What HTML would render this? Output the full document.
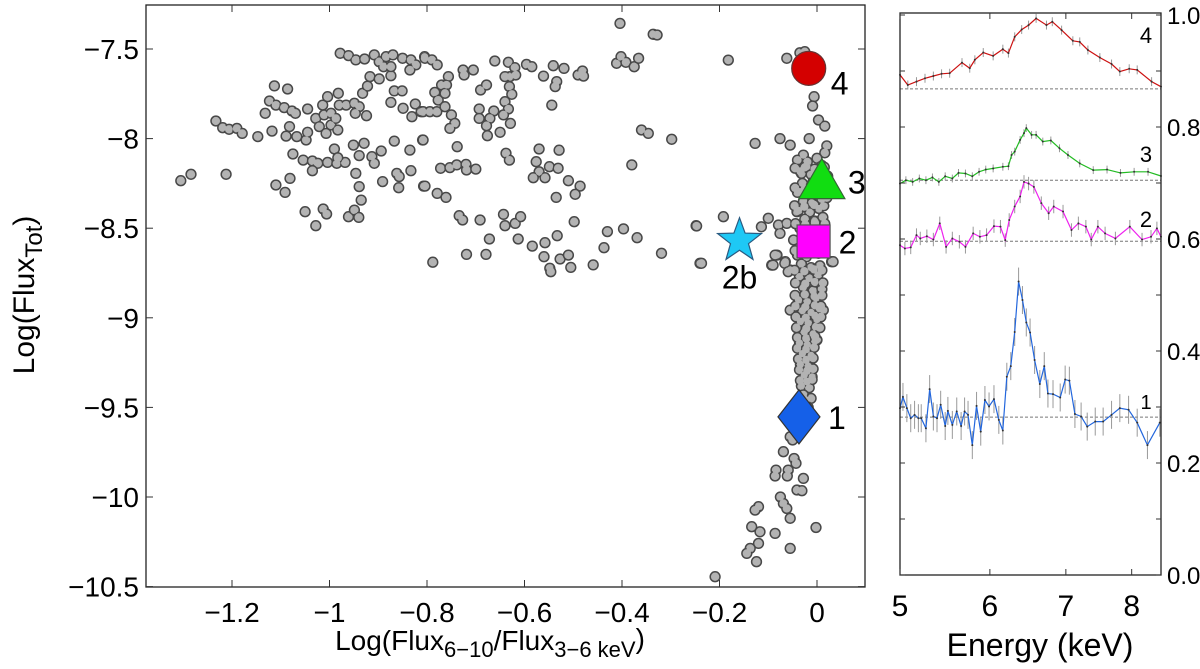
<!DOCTYPE html>
<html><head><meta charset="utf-8">
<style>
html,body{margin:0;padding:0;background:#fff;}
svg{display:block;font-family:"Liberation Sans",Arial,sans-serif;}
</style></head>
<body>
<svg id="fig" width="1200" height="669" viewBox="0 0 1200 669" xmlns="http://www.w3.org/2000/svg">
  <g id="scatter-layer"></g>
  <g id="spec-layer"></g>
</svg>
<script>
// ---------- Scatter data (Log flux ratio, Log total flux) ----------
const scatterX = [
-1.305,-1.284,-1.212,-1.233,-1.219,-1.206,-1.190,-1.179,-1.147,-1.118,-1.113,-1.086,-1.123,-1.132,-1.110,-1.093,-1.077,-1.070,-1.045,-1.082,-1.089,-1.067,-1.048,-1.045,-1.075,-1.054,-1.035,-1.024,-1.035,-1.004,-0.985,-0.968,-0.990,-0.983,-1.110,-1.091,-1.081,-1.050,-1.028,-1.013,-1.006,-0.961,-0.949,-0.940,-0.935,-0.939,-0.946,-1.028,-1.014,-1.004,-0.982,-1.011,-0.997,-1.021,-1.007,-0.997,-0.983,-0.980,-0.987,-0.966,-0.949,-0.939,-0.947,-0.924,-0.932,-0.922,-0.917,-0.898,-0.874,-0.978,-0.961,-0.946,-0.928,-0.908,-0.898,-0.884,-0.870,-0.889,-0.874,-0.850,-0.833,-0.823,-0.835,-0.805,-0.867,-0.851,-0.874,-0.849,-0.824,-0.831,-0.812,-0.951,-0.929,-0.939,-0.913,-0.908,-0.894,-0.867,-0.835,-0.809,-0.891,-0.862,-0.857,-0.858,-0.833,-0.807,
-0.804,-0.790,-0.779,-0.756,-0.770,-0.760,-0.784,-0.777,-0.763,-0.808,-0.794,-0.780,-0.763,-0.750,-0.743,-0.753,-0.808,-0.738,-0.772,-0.753,-0.739,-0.720,-0.719,-0.700,-0.804,-0.779,-0.761,-0.734,-0.727,-0.691,-0.788,-0.719,-0.679,-0.672,-0.643,-0.640,-0.619,-0.608,-0.613,-0.726,-0.724,-0.705,-0.661,-0.633,-0.620,-0.630,-0.640,-0.618,-0.690,-0.678,-0.631,-0.626,-0.640,-0.633,-0.643,-0.663,-0.693,-0.693,-0.671,-0.678,-0.676,-0.650,-0.629,-0.638,-0.631,-0.596,-0.585,-0.561,-0.541,-0.519,-0.534,-0.537,-0.544,-0.490,-0.481,-0.479,-0.570,-0.529,-0.576,-0.570,-0.582,-0.558,-0.549,-0.531,-0.510,-0.486,-0.496,-0.535,-0.498,-0.533,-0.558,-0.584,-0.560,-0.527,-0.510,-0.505,-0.548,-0.546,-0.459,-0.437,-0.430,-0.397,-0.369,-0.319,-0.248,-0.240,-0.404,-0.336,-0.328,-0.411,-0.402,-0.392,-0.375,-0.366,-0.360,-0.346,-0.298,-0.380,
-0.182,-0.062,-0.035,-0.025,-0.006,-0.009,0.003,0.016,-0.127,-0.076,-0.055,-0.016,0.020,0.016,-0.028,-0.021,-0.032,-0.035,-0.247,-0.192,-0.100,-0.114,-0.079,-0.062,-0.076,-0.237,-0.082,-0.093,-0.065,-0.055,-0.041,0.030,-0.048,
-0.086,-0.090,-0.066,-0.059,0.033,-0.055,0.013,0.000,
-0.040,-0.020,0.000,0.010,-0.035,-0.012,0.005,-0.030,-0.008,0.008,-0.040,-0.018,0.002,-0.028,-0.010,0.010,-0.038,-0.015,0.004,-0.025,-0.005,0.012,-0.035,-0.018,0.000,-0.030,-0.010,0.008,-0.040,-0.022,0.003,-0.032,-0.012,0.006,-0.036,-0.016,0.002,-0.028,-0.008,0.010,-0.038,-0.020,-0.002,-0.030,-0.012,0.005,-0.034,-0.018,0.000,-0.026,-0.008,-0.036,-0.020,-0.004,-0.030,-0.012,-0.034,-0.018,-0.026,-0.010,-0.032,-0.016,-0.028,-0.012,-0.030,-0.018,-0.024,
-0.045,-0.025,-0.005,0.015,0.022,-0.045,-0.025,-0.005,0.015,-0.046,-0.026,-0.006,0.014,0.020,-0.044,-0.024,-0.004,0.016,-0.045,-0.025,-0.005,0.012,-0.046,-0.026,-0.006,0.010,-0.044,-0.024,-0.004,0.012,-0.045,-0.025,-0.005,0.010,-0.044,-0.024,-0.004,0.008,-0.043,-0.023,-0.003,0.008,-0.042,-0.022,-0.002,0.006,-0.040,-0.022,-0.004,-0.040,-0.022,-0.006,-0.038,-0.022,-0.008,-0.036,-0.020,-0.008,-0.034,-0.020,-0.010,
-0.069,-0.047,-0.043,-0.084,-0.086,-0.059,-0.061,-0.028,-0.055,-0.050,-0.075,-0.069,-0.062,-0.041,-0.031,-0.055,-0.120,-0.127,-0.134,-0.117,-0.086,-0.002,-0.120,-0.137,-0.144,-0.124,-0.055,-0.209
];
const scatterY = [
-8.235,-8.199,-8.199,-7.902,-7.939,-7.948,-7.943,-7.971,-7.989,-7.958,-7.706,-7.723,-7.790,-7.859,-7.813,-7.827,-7.846,-7.859,-7.835,-7.933,-7.986,-7.989,-8.008,-7.965,-8.086,-8.120,-8.125,-8.138,-8.179,-8.133,-8.138,-8.133,-8.058,-8.107,-8.259,-8.300,-8.222,-8.408,-8.486,-8.393,-8.421,-8.436,-8.399,-8.440,-8.343,-8.268,-8.194,-7.887,-7.813,-7.766,-7.747,-7.868,-7.859,-7.933,-7.971,-7.924,-7.952,-7.813,-7.887,-7.813,-7.803,-7.822,-7.859,-7.872,-7.747,-7.707,-7.654,-7.667,-7.649,-7.524,-7.537,-7.561,-7.556,-7.533,-7.571,-7.543,-7.533,-7.599,-7.599,-7.552,-7.561,-7.589,-7.617,-7.543,-7.734,-7.734,-7.798,-7.831,-7.807,-7.878,-7.850,-8.036,-8.026,-8.095,-8.101,-8.138,-8.069,-8.014,-8.064,-8.008,-8.240,-8.194,-8.212,-8.274,-8.179,-8.265,
-7.552,-7.561,-7.589,-7.654,-7.701,-7.701,-7.742,-7.785,-7.747,-7.850,-7.850,-7.850,-7.822,-7.868,-7.915,-7.943,-8.008,-8.045,-8.166,-8.162,-8.147,-8.144,-8.175,-8.170,-8.265,-8.306,-8.328,-8.430,-8.454,-8.454,-8.690,-8.646,-8.646,-8.560,-8.423,-8.486,-8.473,-8.436,-8.560,-7.617,-7.645,-7.617,-7.567,-7.574,-7.604,-7.654,-7.654,-7.645,-7.729,-7.701,-7.710,-7.753,-7.794,-7.835,-7.868,-7.846,-7.835,-7.887,-7.887,-7.928,-7.984,-7.965,-7.915,-8.082,-8.120,-7.586,-7.599,-7.651,-7.593,-7.608,-7.682,-7.710,-7.813,-7.645,-7.623,-7.651,-8.058,-8.065,-8.129,-8.185,-8.218,-8.218,-8.157,-8.166,-8.235,-8.265,-8.311,-8.328,-8.464,-8.542,-8.581,-8.600,-8.659,-8.672,-8.650,-8.719,-8.724,-8.743,-8.705,-8.609,-8.519,-8.504,-8.553,-8.640,-8.486,-8.696,-7.357,-7.418,-7.422,-7.580,-7.543,-7.574,-7.599,-7.552,-7.952,-7.971,-8.004,-8.147,
-7.562,-7.552,-7.521,-7.515,-7.766,-7.818,-7.896,-7.930,-8.027,-8.000,-8.036,-8.000,-8.041,-8.079,-8.092,-8.157,-8.194,-8.296,-8.488,-8.436,-8.445,-8.492,-8.482,-8.473,-8.529,-8.696,-8.650,-8.706,-8.687,-8.733,-8.408,-8.687,-8.566,
-8.650,-8.706,-8.696,-8.743,-8.687,-8.957,-8.957,-9.124,
-8.120,-8.130,-8.110,-8.150,-8.180,-8.200,-8.190,-8.250,-8.240,-8.260,-8.300,-8.310,-8.290,-8.350,-8.360,-8.340,-8.400,-8.410,-8.390,-8.450,-8.460,-8.440,-8.500,-8.520,-8.510,-8.580,-8.600,-8.570,-8.650,-8.660,-8.640,-8.700,-8.720,-8.710,-8.770,-8.780,-8.760,-8.830,-8.850,-8.840,-8.900,-8.910,-8.890,-8.960,-8.970,-8.950,-9.020,-9.030,-9.010,-9.080,-9.090,-9.140,-9.150,-9.130,-9.200,-9.210,-9.260,-9.270,-9.320,-9.330,-9.380,-9.390,-9.430,-9.450,-9.480,-9.500,-9.460,
-8.165,-8.160,-8.170,-8.160,-8.210,-8.275,-8.280,-8.270,-8.275,-8.375,-8.380,-8.370,-8.375,-8.330,-8.475,-8.480,-8.470,-8.475,-8.625,-8.630,-8.620,-8.625,-8.735,-8.740,-8.730,-8.735,-8.805,-8.810,-8.800,-8.805,-8.875,-8.870,-8.880,-8.875,-8.935,-8.940,-8.930,-8.935,-8.995,-9.000,-8.990,-8.995,-9.055,-9.060,-9.050,-9.055,-9.110,-9.115,-9.105,-9.170,-9.175,-9.165,-9.230,-9.235,-9.225,-9.290,-9.295,-9.285,-9.350,-9.355,-9.345,
-9.747,-9.785,-9.812,-9.850,-9.883,-9.850,-9.883,-9.896,-9.664,-9.682,-10.000,-10.036,-10.064,-9.961,-9.965,-10.119,-10.054,-10.073,-10.166,-10.194,-10.203,-10.170,-10.259,-10.287,-10.315,-10.361,-10.287,-10.445
];
const xTicks = [-1.2,-1,-0.8,-0.6,-0.4,-0.2,0];
const xTickLabels = ["\u22121.2","\u22121","\u22120.8","\u22120.6","\u22120.4","\u22120.2","0"];
const yTicks = [-7.5,-8,-8.5,-9,-9.5,-10,-10.5];
const yTickLabels = ["\u22127.5","\u22128","\u22128.5","\u22129","\u22129.5","\u221210","\u221210.5"];
// highlighted states: 1, 2, 3, 4, 2b
const markX = [-0.037,-0.007,0.010,-0.017,-0.159];
const markY = [-9.553,-8.574,-8.24,-7.608,-8.570];

// ---------- Spectra data (energy keV, normalized flux) ----------
const E4 = [5.00,5.08,5.17,5.26,5.35,5.44,5.53,5.67,5.76,5.82,5.92,6.04,6.16,6.23,6.31,6.40,6.49,6.59,6.73,6.81,6.94,7.10,7.20,7.32,7.50,7.68,7.81,7.96,8.09,8.33,8.49];
const V4 = [0.893,0.875,0.881,0.887,0.891,0.895,0.896,0.915,0.905,0.920,0.933,0.927,0.939,0.932,0.961,0.974,0.982,0.994,0.982,0.988,0.973,0.954,0.952,0.9375,0.924,0.9125,0.899,0.904,0.902,0.881,0.872];
const E3 = [5.00,5.06,5.13,5.20,5.27,5.34,5.41,5.48,5.56,5.63,5.71,5.79,5.87,5.95,6.04,6.16,6.23,6.27,6.31,6.38,6.43,6.46,6.53,6.59,6.68,6.79,6.91,7.03,7.20,7.40,7.61,7.82,8.04,8.27,8.49];
const V3 = [0.699,0.705,0.702,0.708,0.705,0.710,0.702,0.712,0.708,0.718,0.717,0.712,0.720,0.724,0.726,0.729,0.730,0.750,0.756,0.777,0.789,0.798,0.786,0.786,0.774,0.776,0.762,0.750,0.735,0.723,0.724,0.718,0.720,0.720,0.7125];
const E2 = [5.00,5.05,5.11,5.17,5.21,5.28,5.35,5.42,5.49,5.56,5.64,5.71,5.80,5.88,5.96,6.05,6.13,6.19,6.24,6.31,6.38,6.43,6.49,6.56,6.66,6.76,6.83,6.96,7.08,7.18,7.29,7.37,7.47,7.58,7.74,7.97,8.17,8.32,8.42,8.49];
const V2 = [0.589,0.583,0.585,0.607,0.601,0.605,0.599,0.628,0.586,0.601,0.595,0.586,0.610,0.604,0.607,0.623,0.622,0.598,0.634,0.658,0.676,0.702,0.699,0.693,0.664,0.646,0.658,0.649,0.616,0.628,0.622,0.599,0.622,0.610,0.601,0.622,0.599,0.604,0.619,0.604];
const E1 = [5.00,5.03,5.07,5.11,5.15,5.19,5.22,5.27,5.31,5.35,5.39,5.43,5.48,5.51,5.56,5.61,5.66,5.70,5.74,5.79,5.84,5.89,5.94,5.99,6.05,6.11,6.16,6.21,6.26,6.31,6.36,6.41,6.46,6.51,6.57,6.64,6.70,6.75,6.82,6.92,6.99,7.05,7.13,7.22,7.31,7.43,7.55,7.68,7.81,7.95,8.09,8.26,8.47];
const V1 = [0.298,0.318,0.298,0.280,0.286,0.280,0.280,0.262,0.332,0.283,0.280,0.304,0.266,0.293,0.268,0.292,0.266,0.292,0.286,0.232,0.302,0.256,0.3125,0.301,0.314,0.277,0.258,0.354,0.373,0.434,0.524,0.491,0.451,0.433,0.384,0.341,0.373,0.324,0.323,0.317,0.349,0.347,0.2875,0.283,0.265,0.274,0.274,0.286,0.298,0.295,0.272,0.232,0.272];
const baselines = [0.868,0.705,0.596,0.282];
const errHalf = [0.008,0.007,0.012,0.025];
const specLabels = ["4","3","2","1"];
const eTicks = [5,6,7,8];
const vTicks = [0.0,0.2,0.4,0.6,0.8,1.0];
const vTickLabels = ["0.0","0.2","0.4","0.6","0.8","1.0"];

const NS = "http://www.w3.org/2000/svg";
function mk(tag, attrs, parent){ const e=document.createElementNS(NS,tag); for(const k in attrs) e.setAttribute(k,attrs[k]); parent.appendChild(e); return e; }

// ---------- Left scatter ----------
const L = {x0:146, x1:865, y0:5, y1:587};
const sx = v => 817 + v*487.5;
const sy = v => 49 + (-7.5 - v)*179.2;
const sg = document.getElementById('scatter-layer');

const pts = mk('g',{},sg);


for(let i=0;i<scatterX.length;i++){
  const c = mk('circle',{cx:sx(scatterX[i]).toFixed(1),cy:sy(scatterY[i]).toFixed(1),r:4.9,fill:'#b3b3b3',stroke:'#484848','stroke-width':1.5},pts);
  
  
}
const ptsFill = mk('g',{},sg);


for(let i=0;i<scatterX.length;i++){
  const c = mk('circle',{cx:sx(scatterX[i]).toFixed(1),cy:sy(scatterY[i]).toFixed(1),r:3.6,fill:'#b3b3b3'},ptsFill);
  
  
}
// markers
const mg = mk('g',{},sg);


{
  let cx=sx(markX[0]), cy=sy(markY[0]);
  let d = mk('polygon',{points:`${cx},${cy-27} ${cx+21},${cy} ${cx},${cy+27} ${cx-21},${cy}`,fill:'#1560e8',stroke:'#333','stroke-width':1.2},mg);
   
  cx=sx(markX[1]); cy=sy(markY[1]);
  d = mk('rect',{x:cx-16.5,y:cy-16.5,width:33,height:33,fill:'#ff00ff',stroke:'#555','stroke-width':1.2},mg);
   
  cx=sx(markX[2]); cy=sy(markY[2]);
  d = mk('polygon',{points:`${cx},${cy-23} ${cx+23},${cy+17} ${cx-23},${cy+17}`,fill:'#11dd11',stroke:'#336633','stroke-width':1.2},mg);
   
  cx=sx(markX[3]); cy=sy(markY[3]);
  d = mk('circle',{cx:cx,cy:cy,r:17,fill:'#d40000',stroke:'#663333','stroke-width':1.2},mg);
   
  cx=sx(markX[4]); cy=sy(markY[4]);
  let sp=[]; for(let k=0;k<10;k++){const r=k%2?9.5:23; const a=-Math.PI/2+k*Math.PI/5; sp.push((cx+r*Math.cos(a)).toFixed(1)+','+(cy+r*Math.sin(a)).toFixed(1));}
  d = mk('polygon',{points:sp.join(' '),fill:'#1ec8f5',stroke:'#2a5a80','stroke-width':1.2},mg);
   
  const labs=[["1",sx(markX[0])+29,sy(markY[0])+12],["2",sx(markX[1])+25,sy(markY[1])+12],["3",sx(markX[2])+26,sy(markY[2])+12],["4",sx(markX[3])+22,sy(markY[3])+26],["2b",sx(markX[4]),sy(markY[4])+48]];
  for(const l of labs){
    const t=mk('text',{x:l[1],y:l[2],'font-size':32,'text-anchor':l[0]==='2b'?'middle':'start',fill:'#000'},mg);
    t.textContent=l[0];
     
  }
}
let fr = mk('rect',{x:L.x0,y:L.y0,width:L.x1-L.x0,height:L.y1-L.y0,fill:'none',stroke:'#222','stroke-width':1.3},sg);
 
const xax = mk('g',{},sg);
 
xTicks.forEach((v,i)=>{
  const x=sx(v);
  mk('line',{x1:x,y1:L.y1,x2:x,y2:L.y1-7,stroke:'#333','stroke-width':1},xax);
  mk('line',{x1:x,y1:L.y0,x2:x,y2:L.y0+7,stroke:'#333','stroke-width':1},xax);
  const t=mk('text',{x:x,y:622,'font-size':28,'text-anchor':'middle'},xax);
  t.textContent=xTickLabels[i];
   
});
const yax = mk('g',{},sg);
 
yTicks.forEach((v,i)=>{
  const y=sy(v);
  mk('line',{x1:L.x0,y1:y,x2:L.x0+7,y2:y,stroke:'#333','stroke-width':1},yax);
  mk('line',{x1:L.x1,y1:y,x2:L.x1-7,y2:y,stroke:'#333','stroke-width':1},yax);
  const t=mk('text',{x:139,y:y+10,'font-size':28,'text-anchor':'end'},yax);
  t.textContent=yTickLabels[i];
   
});
let yt = mk('text',{x:0,y:0,'font-size':30,'text-anchor':'middle',transform:'translate(34,295) rotate(-90)'},sg);
yt.innerHTML='Log(Flux<tspan font-size="24" dy="8">Tot</tspan><tspan dy="-8">)</tspan>';
 
let xt = mk('text',{x:490,y:650,'font-size':28,'text-anchor':'middle'},sg);
xt.innerHTML='Log(Flux<tspan font-size="22" dy="7">6\u221210</tspan><tspan dy="-7">/Flux</tspan><tspan font-size="22" dy="7">3\u22126 keV</tspan><tspan dy="-9">)</tspan>';
 

// ---------- Right spectra panel ----------
const R = {x0:900, x1:1161, y0:13, y1:575};
const ex = e => 900 + Math.log10(e/5)*1135;
const vy = v => 575 - v*560;
const rg = document.getElementById('spec-layer');
const colors = ['#cc1111','#22bb22','#ee22ee','#2266dd'];
const Es=[E4,E3,E2,E1], Vs=[V4,V3,V2,V1];
for(let s=0;s<4;s++){
  const g=mk('g',{},rg);
   
  const bl=mk('line',{x1:R.x0,x2:R.x1,y1:vy(baselines[s]),y2:vy(baselines[s]),stroke:'#777','stroke-width':1,'stroke-dasharray':'3,2'},g);
   
  const E=Es[s], V=Vs[s];
  for(let i=0;i<E.length;i++){
    mk('line',{x1:ex(E[i]),x2:ex(E[i]),y1:vy(V[i]-errHalf[s]),y2:vy(V[i]+errHalf[s]),stroke:'#999','stroke-width':1},g);
  }
  const pl=mk('polyline',{points:E.map((e,i)=>ex(e).toFixed(1)+','+vy(V[i]).toFixed(1)).join(' '),fill:'none',stroke:colors[s],'stroke-width':1.2},g);
   
  for(let i=0;i<E.length;i++){
    mk('circle',{cx:ex(E[i]),cy:vy(V[i]),r:1,fill:'#333'},g);
  }
}
const slabY=[43,162,227,409];
specLabels.forEach((l,i)=>{
  const t=mk('text',{x:1146,y:slabY[i],'font-size':i===3?20:22,'text-anchor':'middle'},rg);
  t.textContent=l;
   
});
fr = mk('rect',{x:R.x0,y:R.y0,width:R.x1-R.x0,height:R.y1-R.y0,fill:'none',stroke:'#222','stroke-width':1.3},rg);
 
const exax=mk('g',{},rg);
 
eTicks.forEach(e=>{
  const x=ex(e);
  mk('line',{x1:x,x2:x,y1:R.y1,y2:R.y1-6,stroke:'#333'},exax);
  mk('line',{x1:x,x2:x,y1:R.y0,y2:R.y0+6,stroke:'#333'},exax);
  const t=mk('text',{x:x,y:616,'font-size':30,'text-anchor':'middle'},exax);
  t.textContent=String(e);
   
});
const vax=mk('g',{},rg);
 
for(let k=0;k<=10;k++){
  const y=vy(k/10);
  mk('line',{x1:R.x0,x2:R.x0+5,y1:y,y2:y,stroke:'#333'},vax);
  mk('line',{x1:R.x1,x2:R.x1-5,y1:y,y2:y,stroke:'#333'},vax);
}
vTicks.forEach((v,i)=>{
  const t=mk('text',{x:1167,y:vy(v)+9,'font-size':24},vax);
  t.textContent=vTickLabels[i];
   
});
let et=mk('text',{x:1040,y:656,'font-size':32,'text-anchor':'middle'},rg);
et.textContent='Energy (keV)';
 
</script>
</body></html>
